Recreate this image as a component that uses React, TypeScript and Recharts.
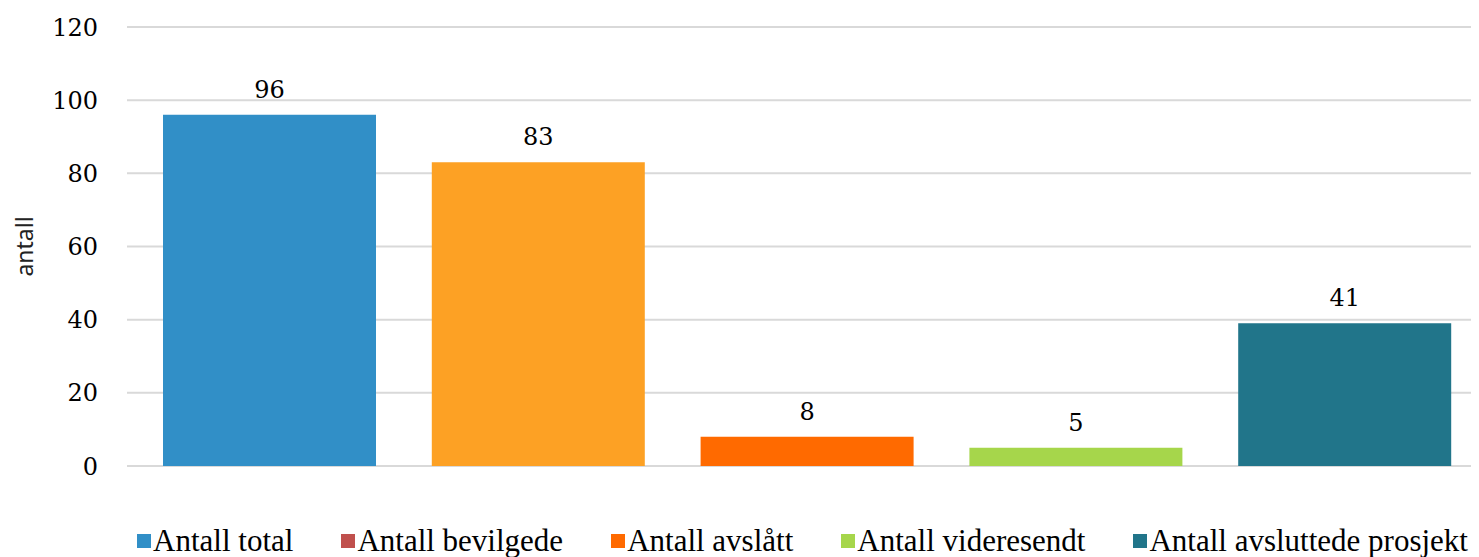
import { BarChart, Bar, XAxis, YAxis, CartesianGrid, Cell, LabelList, Legend, Label } from "recharts";

const categories = [
  "Antall total",
  "Antall bevilgede",
  "Antall avslått",
  "Antall videresendt",
  "Antall avsluttede prosjekt",
];
const values = [96, 83, 8, 5, 39];
const valueLabels = ["96", "83", "8", "5", "41"];
const barColors = ["#318fc7", "#fda124", "#ff6a00", "#a6d64b", "#21758a"];
const legendColors = ["#318fc7", "#c0504d", "#ff6a00", "#a6d64b", "#21758a"];
const yTicks = [0, 20, 40, 60, 80, 100, 120];

const data = categories.map((name, i) => ({
  name,
  value: values[i],
  label: valueLabels[i],
}));

const serif = "'DejaVu Serif', serif";

function LegendRow() {
  return (
    <div
      style={{
        display: "flex",
        justifyContent: "center",
        alignItems: "center",
        gap: 48,
        height: 32,
        paddingLeft: 118,
        fontFamily: "'Liberation Serif', serif",
        fontSize: 31,
        color: "#000",
      }}
    >
      {categories.map((c, i) => (
        <div key={c} style={{ display: "flex", alignItems: "center", whiteSpace: "nowrap", flexShrink: 0 }}>
          <span style={{ width: 14, height: 14, background: legendColors[i], marginRight: 2, display: "inline-block" }} />
          {c}
        </div>
      ))}
    </div>
  );
}

export default function App() {
  return (
    <BarChart
      width={1471}
      height={549}
      data={data}
      margin={{ top: 19, right: 0, left: 0, bottom: 0 }}
    >
      <CartesianGrid vertical={false} stroke="#d9d9d9" strokeWidth={2} />
      <XAxis
        dataKey="name"
        height={59}
        tick={false}
        tickLine={false}
        axisLine={false}
        padding={{ left: 8, right: 0 }}
      />
      <YAxis
        width={119}
        domain={[0, 120]}
        ticks={yTicks}
        tickLine={false}
        axisLine={false}
        tickSize={0}
        tickMargin={29}
        tick={{ fontFamily: serif, fontSize: 24, fill: "#000" }}
      >
        <Label
          value="antall"
          angle={-90}
          position="center"
          dx={-43}
          style={{ fontFamily: "'Noto Sans', sans-serif", fontSize: 23, fill: "#222" }}
        />
      </YAxis>
      <Legend verticalAlign="bottom" height={32} content={() => <LegendRow />} />
      <Bar dataKey="value" barSize={213} isAnimationActive={false}>
        {data.map((d, i) => (
          <Cell key={d.name} fill={barColors[i]} />
        ))}
        <LabelList
          dataKey="label"
          position="top"
          offset={17}
          style={{ fontFamily: serif, fontSize: 24, fill: "#000" }}
        />
      </Bar>
    </BarChart>
  );
}
